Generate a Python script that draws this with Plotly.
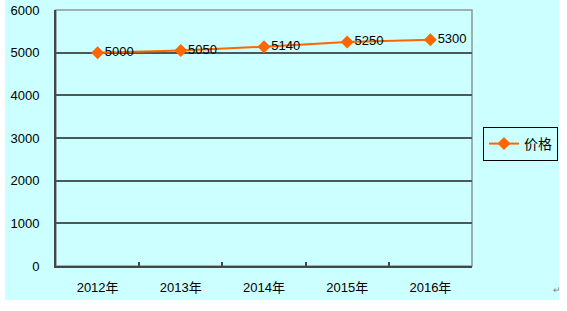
import plotly.graph_objects as go

years = ["2012年", "2013年", "2014年", "2015年", "2016年"]
prices = [5000, 5050, 5140, 5250, 5300]
series_name = "价格"

W, H = 567, 311
L, R, T, B = 56, 95, 10, 45
pw, ph = W - L - R, H - T - B

def px_x(x):
    return (x - L) / pw

def px_y(y):
    return (H - B - y) / ph

font_family = "Liberation Sans, Arial, Noto Sans CJK SC, sans-serif"

fig = go.Figure()
fig.add_trace(go.Scatter(
    x=years, y=prices, name=series_name,
    mode="lines+markers+text",
    line=dict(color="#FF6600", width=2),
    marker=dict(symbol="diamond", size=10, color="#FF6600"),
    text=[str(v) for v in prices],
    textposition="middle right",
    textfont=dict(size=13, color="#000000", family=font_family),
    cliponaxis=False,
))

shapes = [
    # cyan background region
    dict(type="rect", xref="paper", yref="paper", layer="below",
         x0=px_x(5), x1=px_x(559), y0=px_y(300), y1=px_y(0),
         fillcolor="#CCFFFF", line=dict(width=0)),
    # plot area frame (top/right gray)
    dict(type="rect", xref="paper", yref="paper", layer="below",
         x0=0, x1=1, y0=0, y1=1,
         fillcolor="rgba(0,0,0,0)", line=dict(color="#8C9696", width=1.5)),
]

fig.update_layout(
    width=W, height=H,
    margin=dict(l=L, r=R, t=T, b=B, autoexpand=False),
    paper_bgcolor="#FFFFFF",
    plot_bgcolor="rgba(0,0,0,0)",
    font=dict(family=font_family, size=13, color="#000000"),
    shapes=shapes,
    showlegend=True,
    legend=dict(
        x=px_x(483), y=px_y(127), xanchor="left", yanchor="top",
        bordercolor="#000000", borderwidth=1, bgcolor="rgba(0,0,0,0)",
        font=dict(size=14, family=font_family),
        itemwidth=30, tracegroupgap=0,
    ),
    xaxis=dict(
        type="category", range=[-0.5, 4.5], automargin=False,
        showline=True, linecolor="#404848", linewidth=2,
        ticks="inside", ticklen=4, tickcolor="#404848", tickwidth=1.5,
        tickson="boundaries", showgrid=False, zeroline=False,
        tickfont=dict(size=13), ticklabelstandoff=8,
    ),
    yaxis=dict(
        range=[0, 6000], tickvals=[0, 1000, 2000, 3000, 4000, 5000, 6000],
        automargin=False,
        showline=True, linecolor="#404848", linewidth=2,
        showgrid=True, gridcolor="#4A5858", gridwidth=1.5,
        zeroline=False, ticks="", tickfont=dict(size=13),
        ticklabelstandoff=12,
    ),
    annotations=[
        dict(text="↵", xref="paper", yref="paper", x=px_x(563), y=px_y(297),
             showarrow=False, font=dict(size=9, color="#808080")),
    ],
)

fig.write_html("out.html")
